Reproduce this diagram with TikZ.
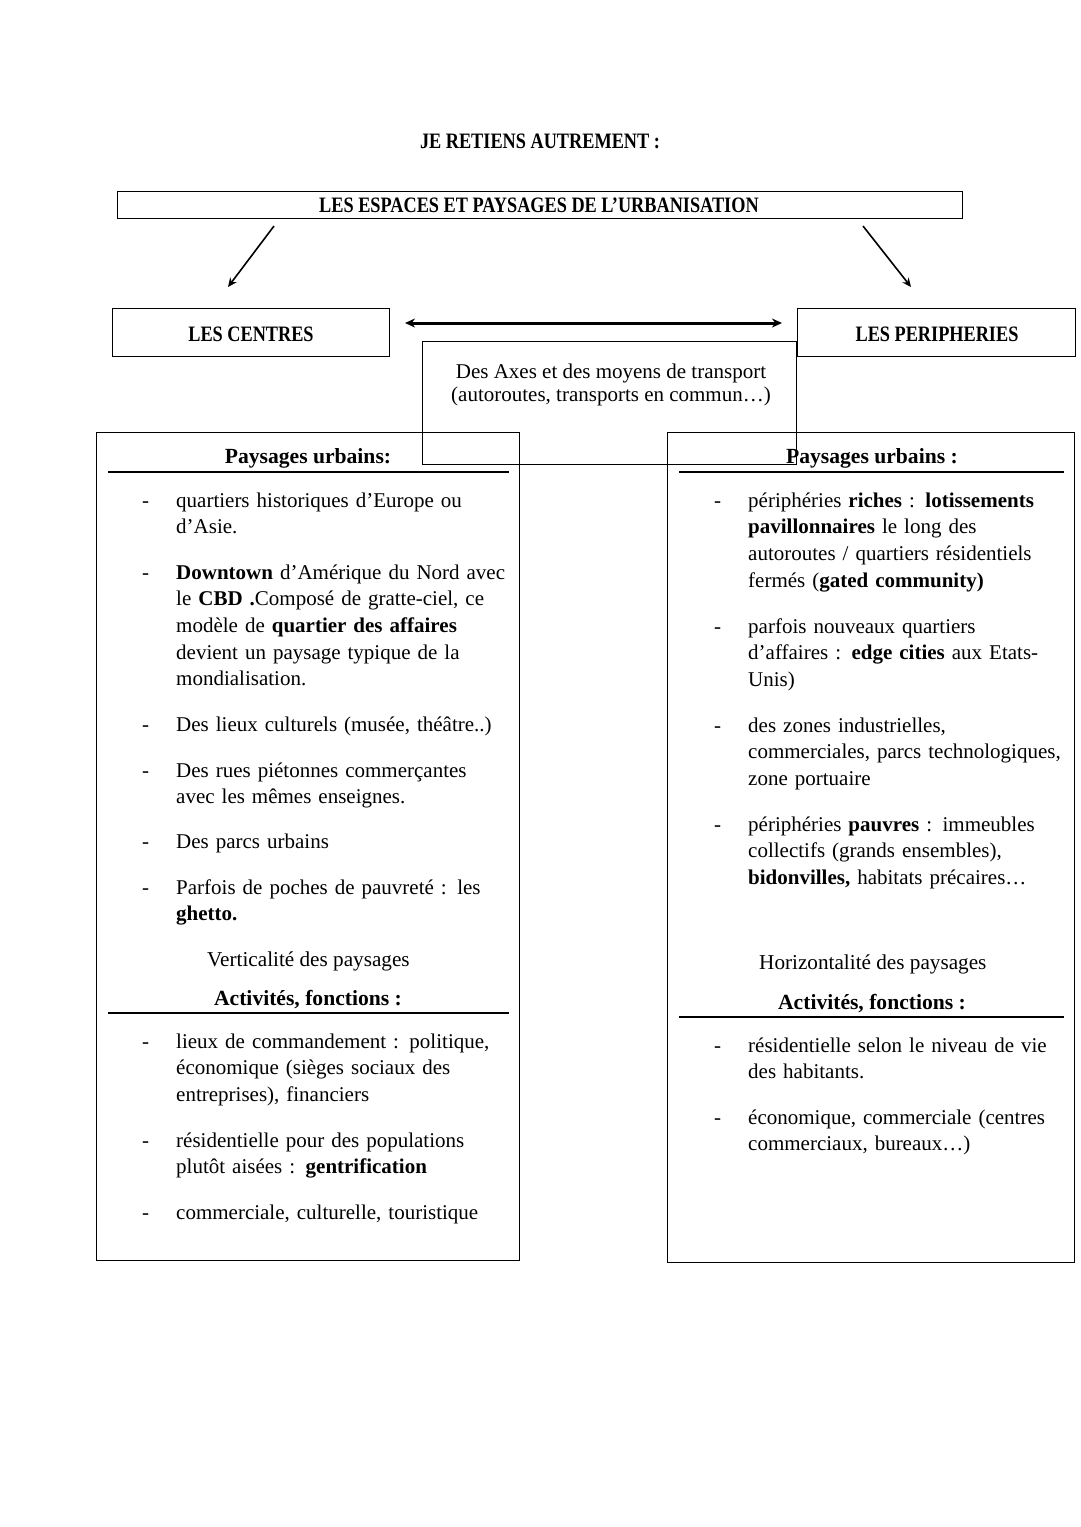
\documentclass[tikz,border=0pt]{standalone}
\usepackage{fontspec}
\setmainfont{Liberation Serif}
\newfontfamily\condfont[FakeStretch=0.83]{Liberation Serif}
\usetikzlibrary{arrows.meta}
\newcommand\dashitem{\makebox[0pt][r]{-\hspace{27pt}}}
\begin{document}
\begin{tikzpicture}[x=1pt,y=-1pt,
  box/.style={draw, line width=1.3pt, inner sep=0pt, anchor=north west},
  capsb/.style={font=\condfont\bfseries\fontsize{22}{26}\selectfont, inner sep=0pt, anchor=base},
  head/.style={font=\bfseries\fontsize{21.6}{26}\selectfont, inner sep=0pt, anchor=base},
  body/.style={font=\fontsize{21}{26.7}\selectfont, inner sep=0pt, anchor=base west, text width=360pt, align=left},
  plain/.style={font=\fontsize{21.2}{26}\selectfont, inner sep=0pt, anchor=base west},
  rule/.style={line width=1.5pt},
  arr/.style={line width=1.6pt, -{Stealth[length=9pt,width=8pt]}},
  darr/.style={line width=3pt, {Stealth[length=10pt,width=9pt]}-{Stealth[length=10pt,width=9pt]}}]
\useasboundingbox (0,0) rectangle (1080,1527);
\fill[white] (0,0) rectangle (1080,1527);

% title
\node[capsb] (title) at (540,148) {JE RETIENS AUTREMENT :};

% boxes
\node[box, minimum width=845pt, minimum height=27pt] (tbox) at (117,191) {};
\node[capsb] (ttext) at (539,212) {LES ESPACES ET PAYSAGES DE L’URBANISATION};
\node[box, minimum width=277pt, minimum height=48pt] (cbox) at (112,308) {};
\node[capsb] (ctext) at (251,341) {LES CENTRES};
\node[box, minimum width=278pt, minimum height=48pt] (pbox) at (797,308) {};
\node[capsb] (ptext) at (937,341) {LES PERIPHERIES};
\node[box, minimum width=423pt, minimum height=828pt] (lbox) at (96,432) {};
\node[box, minimum width=407pt, minimum height=830pt] (rbox) at (667,432) {};
\node[box, minimum width=374pt, minimum height=123pt] (abox) at (422,341) {};
\node[font=\fontsize{21}{23}\selectfont, inner sep=0pt, anchor=base, align=center] (atext) at (611,401)
  {Des Axes et des moyens de transport\\(autoroutes, transports en commun…)};

% arrows
\coordinate (a1s) at (274,226); \coordinate (a1e) at (228,287);
\coordinate (a2s) at (863,226); \coordinate (a2e) at (911,287);
\coordinate (d1) at (405,323); \coordinate (d2) at (782,323);
\draw[arr] (a1s) -- (a1e);
\draw[arr] (a2s) -- (a2e);
\draw[darr] (d1) -- (d2);

% left box
\node[head] (lh1) at (308,463) {Paysages urbains:};
\coordinate (lu1a) at (108,472); \coordinate (lu1b) at (509,472);
\draw[rule] (lu1a) -- (lu1b);
\node[body] (l1) at (176,507) {\dashitem quartiers historiques d’Europe ou\\d’Asie.};
\node[body] (l2) at (176,579) {\dashitem\textbf{Downtown} d’Amérique du Nord avec\\le \textbf{CBD .}Composé de gratte-ciel, ce\\modèle de \textbf{quartier des affaires}\\devient un paysage typique de la\\mondialisation.};
\node[body] (l3) at (176,731) {\dashitem Des lieux culturels (musée, théâtre..)};
\node[body] (l4) at (176,777) {\dashitem Des rues piétonnes commerçantes\\avec les mêmes enseignes.};
\node[body] (l5) at (176,848) {\dashitem Des parcs urbains};
\node[body] (l6) at (176,894) {\dashitem Parfois de poches de pauvreté : les\\\textbf{ghetto.}};
\node[plain] (lv) at (207,966) {Verticalité des paysages};
\node[head] (lh2) at (308,1005) {Activités, fonctions :};
\coordinate (lu2a) at (108,1013); \coordinate (lu2b) at (509,1013);
\draw[rule] (lu2a) -- (lu2b);
\node[body] (l7) at (176,1048) {\dashitem lieux de commandement : politique,\\économique (sièges sociaux des\\entreprises), financiers};
\node[body] (l8) at (176,1147) {\dashitem résidentielle pour des populations\\plutôt aisées : \textbf{gentrification}};
\node[body] (l9) at (176,1219) {\dashitem commerciale, culturelle, touristique};

% right box
\node[head] (rh1) at (872,463) {Paysages urbains :};
\coordinate (ru1a) at (679,472); \coordinate (ru1b) at (1064,472);
\draw[rule] (ru1a) -- (ru1b);
\node[body] (r1) at (748,507) {\dashitem périphéries \textbf{riches} : \textbf{lotissements}\\\textbf{pavillonnaires} le long des\\autoroutes / quartiers résidentiels\\fermés (\textbf{gated community)}};
\node[body] (r2) at (748,633) {\dashitem parfois nouveaux quartiers\\d’affaires : \textbf{edge cities} aux Etats-\\Unis)};
\node[body] (r3) at (748,732) {\dashitem des zones industrielles,\\commerciales, parcs technologiques,\\zone portuaire};
\node[body] (r4) at (748,831) {\dashitem périphéries \textbf{pauvres} : immeubles\\collectifs (grands ensembles),\\\textbf{bidonvilles,} habitats précaires…};
\node[plain] (rv) at (759,969) {Horizontalité des paysages};
\node[head] (rh2) at (872,1009) {Activités, fonctions :};
\coordinate (ru2a) at (679,1017); \coordinate (ru2b) at (1064,1017);
\draw[rule] (ru2a) -- (ru2b);
\node[body] (r5) at (748,1052) {\dashitem résidentielle selon le niveau de vie\\des habitants.};
\node[body] (r6) at (748,1124) {\dashitem économique, commerciale (centres\\commerciaux, bureaux…)};
\end{tikzpicture}
\end{document}
